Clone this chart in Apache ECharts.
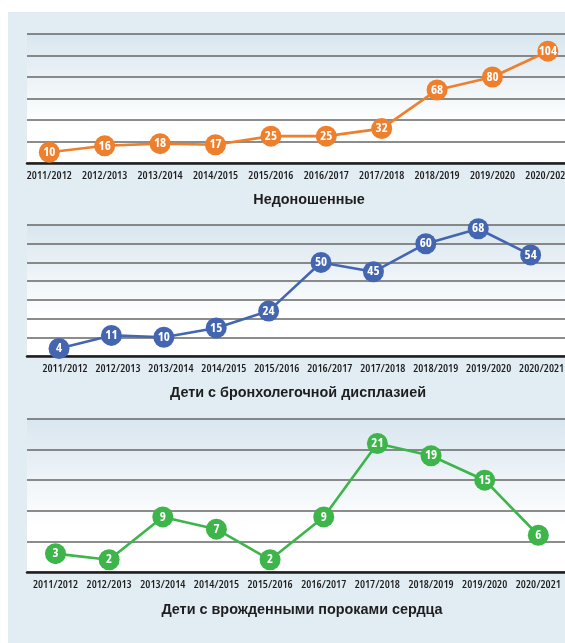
<!DOCTYPE html>
<html>
<head>
<meta charset="utf-8">
<script src="https://cdn.jsdelivr.net/npm/echarts@6/dist/echarts.min.js"></script>
<style>
html,body{margin:0;padding:0;background:#ffffff;}
#panel{position:absolute;left:8px;top:12px;width:557px;height:631px;background:#e2ecf3;}
#chart{position:absolute;left:0;top:0;width:565px;height:643px;}
</style>
</head>
<body>
<div id="panel"></div>
<div id="chart"></div>
<script>
const categories = ['2011/2012','2012/2013','2013/2014','2014/2015','2015/2016','2016/2017','2017/2018','2018/2019','2019/2020','2020/2021'];
const premature = [10,16,18,17,25,25,32,68,80,104];
const bpd = [4,11,10,15,24,50,45,60,68,54];
const chd = [3,2,9,7,2,9,21,19,15,6];
const titles = ['Недоношенные','Дети с бронхолегочной дисплазией','Дети с врожденными пороками сердца'];
const yMax = [120,70,25];
const yStep = [20,10,5];

const condFamily = "'Open Sans',sans-serif";
const colors = ['#ee7f2d','#4466b0','#3db54a'];
const idx = categories.map((c,i)=>i);
const plotBg = {type:'linear',x:0,y:0,x2:0,y2:1,colorStops:[{offset:0,color:'#d9e6ef'},{offset:0.7,color:'#ffffff'},{offset:1,color:'#ffffff'}]};

const grids = [
  {left:27, top:34, height:129, right:0},
  {left:27, top:225, height:131, right:0},
  {left:27, top:419, height:153, right:0}
].map(g=>Object.assign(g,{show:true,backgroundColor:plotBg,borderWidth:0,containLabel:false,outerBoundsMode:'none'}));

function xAx(gi,min,max,showLabels,showLine){
  return {
    type:'value', gridIndex:gi, min:min, max:max, position:'bottom', offset:0,
    splitLine:{show:false}, axisTick:{show:false},
    axisLine:{show:showLine, onZero:false, lineStyle:{color:'#1e1e1e',width:2.5}},
    axisLabel:{show:showLabels, customValues:idx, formatter:(v)=>categories[Math.round(v)]||'',
      showMinLabel:true, showMaxLabel:true, hideOverlap:false,
      fontFamily:condFamily, fontWeight:'600 condensed', fontSize:11.4, color:'#1e1e1e', margin:7},
    axisPointer:{show:false}
  };
}
function yAx(gi,k){
  return {
    type:'value', gridIndex:gi, min:0, max:yMax[k], interval:yStep[k],
    axisLabel:{show:false}, axisTick:{show:false}, axisLine:{show:false},
    splitLine:{show:true, lineStyle:{color:'#666666', width:1.6}}
  };
}
function ser(k, xi, data){
  return {
    type:'line', xAxisIndex:xi, yAxisIndex:k, data:data.map((v,i)=>[i,v]),
    symbol:'circle', symbolSize:21, lineStyle:{color:colors[k],width:2.6},
    itemStyle:{color:colors[k]},
    label:{show:true, position:'inside', color:'#ffffff', fontWeight:'bold condensed', fontFamily:condFamily, fontSize:13,
      formatter:(p)=>p.value[1]},
    z:3
  };
}
const titleStyle = {align:'center', verticalAlign:'middle', fontFamily:"'Liberation Sans',Arial,sans-serif", fontWeight:'bold', fontSize:14.4, fill:'#1e1e1e'};

const option = {
  backgroundColor:'transparent',
  animation:false,
  grid:grids,
  xAxis:[
    xAx(0,-0.4025,9.309,true,true),
    xAx(1,-0.611,9.656,false,true),
    xAx(1,-0.7175,9.441,true,false),
    xAx(2,-0.531,9.497,true,true)
  ],
  yAxis:[yAx(0,0),yAx(1,1),yAx(2,2)],
  series:[ser(0,0,premature), ser(1,1,bpd), ser(2,3,chd)],
  graphic:[
    {type:'text', x:309, y:200, style:Object.assign({text:titles[0]},titleStyle)},
    {type:'text', x:298, y:393, style:Object.assign({text:titles[1]},titleStyle)},
    {type:'text', x:302, y:610, style:Object.assign({text:titles[2]},titleStyle)}
  ]
};
const chart = echarts.init(document.getElementById('chart'), null, {renderer:'canvas'});
chart.setOption(option);
</script>
</body>
</html>
